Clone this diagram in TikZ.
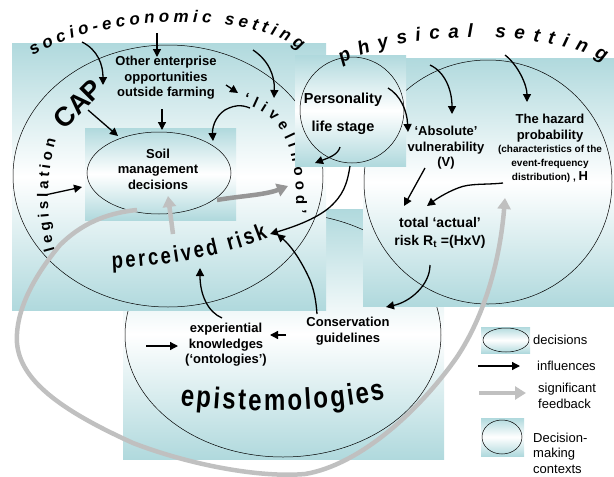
\documentclass[tikz,border=0pt]{standalone}
\usepackage{fontspec}
\setmainfont{Liberation Sans}
\newfontfamily\narrowfont[FakeStretch=0.8]{Liberation Sans}
\usetikzlibrary{arrows.meta,positioning,shapes.geometric,decorations.text}
\definecolor{ctxteal}{RGB}{176,217,221}
\definecolor{fbgray}{RGB}{192,192,192}
\definecolor{fbdark}{RGB}{150,150,150}
\tikzset{
  ctxbox/.style={top color=ctxteal, bottom color=ctxteal, middle color=white},
  ring/.style={ellipse, draw, line width=0.5pt, inner sep=0pt, outer sep=0pt},
  infl/.style={-{Triangle[length=8pt,width=8pt]}, line width=1.3pt},
  feedback/.style={-{Triangle[length=11pt,width=13pt]}, line width=4.5pt, draw=fbgray},
  lbl/.style={font=\bfseries\fontsize{13}{15.5}\selectfont, align=center, inner sep=0pt},
  leg/.style={font=\fontsize{13}{15.5}\selectfont, align=left, inner sep=0pt, anchor=west},
  arcword/.style={decorate, decoration={text along path, text align={fit to path}, text={#1}}}
}
\begin{document}
\begin{tikzpicture}[x=1pt, y=-1pt]
  \useasboundingbox (0,0) rectangle (614,477);
  \fill[ctxbox] (123,209) rectangle (444,459);
  \node[ring, minimum width=316pt, minimum height=244pt] (epis) at (283,335) {};
  \fill[ctxbox] (12,43) rectangle (326,310);
  \node[ring, minimum width=310pt, minimum height=262pt] (socio) at (168,176) {};
  \fill[ctxbox] (85,128) rectangle (236,220);
  \node[ring, minimum width=144pt, minimum height=82pt] (soil) at (159,173) {};
  \path[arcword={|\bfseries\fontsize{15}{15}\selectfont|‘livelihood’}]
    (243,103) .. controls (278,114) and (298,140) .. (296,214);
  \fill[ctxbox] (363,58) rectangle (614,306);
  \node[ring, minimum width=248pt, minimum height=244pt] (phys) at (488,182) {};
  \fill[ctxbox] (295,55) rectangle (406,166);
  \node[ring, minimum width=104pt, minimum height=106pt] (pers) at (352,110) {};
  \fill[ctxbox] (481,327) rectangle (530,353);
  \node[ring, minimum width=46pt, minimum height=24pt] (legdec) at (506,340) {};
  \fill[ctxbox] (481,418) rectangle (524,456);
  \node[ring, minimum width=40pt, minimum height=34pt] (legctx) at (502,437) {};

  \path[arcword={|\bfseries\itshape\fontsize{17}{17}\selectfont|socio-economic setting}]
    (33,56) .. controls (100,14) and (250,10) .. (300,50);
  \path[arcword={|\bfseries\itshape\fontsize{19}{19}\selectfont|physical setting}]
    (342,64) .. controls (400,30) and (545,28) .. (604,62);
  \path[arcword={|\bfseries\fontsize{15}{15}\selectfont|legislation}]
    (55,250) .. controls (45,215) and (46,175) .. (56,140);
  \node[font=\bfseries\fontsize{27}{27}\selectfont, rotate=45, inner sep=0pt] (cap) at (78,104) {CAP};
  \path[arcword={|\narrowfont\bfseries\fontsize{23}{23}\selectfont|perceived risk}]
    (112,268) .. controls (170,266) and (225,255) .. (268,238);
  \path[arcword={|\narrowfont\bfseries\fontsize{30}{30}\selectfont|epistemologies}]
    (180,405) .. controls (250,413) and (320,413) .. (386,399);

  \node[lbl] (other) at (166,78) {Other enterprise\\opportunities\\outside farming};
  \node[lbl] (soiltxt) at (158,169) {Soil\\management\\decisions};
  \node[lbl, font=\bfseries\fontsize{14.5}{28}\selectfont] (perstxt) at (343,114) {Personality\\life stage};
  \node[lbl] (vuln) at (446,148) {‘Absolute’\\vulnerability\\(V)};
  \node[lbl] (hazard) at (550,128) {The hazard\\probability};
  \node[lbl, font=\bfseries\fontsize{10}{14}\selectfont, below=3pt of hazard] (hazdef)
    {(characteristics of the\\event-frequency\\distribution) , {\fontsize{13}{14}\selectfont H}};
  \node[lbl, font=\bfseries\fontsize{14}{18}\selectfont] (risk) at (440,233) {total ‘actual’\\risk R\textsubscript{t} =(HxV)};
  \node[lbl] (cons) at (348,331) {Conservation\\guidelines};
  \node[lbl] (exper) at (226,345) {experiential\\knowledges\\(‘ontologies’)};

  \node[leg] (legdectxt) at (533,340) {decisions};
  \node[leg] (leginfl) at (537,366) {influences};
  \node[leg] (legfb) at (538,396) {significant\\feedback};
  \node[leg] (legctxtxt) at (533,453) {Decision-\\making\\contexts};

  \coordinate (so) at (82,42);
  \coordinate (setmid) at (157,33);
  \coordinate (setright) at (253,50);
  \coordinate (physl) at (430,65);
  \coordinate (physr) at (505,55);
  \coordinate (legis) at (45,195);
  \coordinate (live) at (250,108);
  \coordinate (hz) at (503,183);

  \draw[infl] (so) .. controls (98,50) and (103,65) .. (103,85);
  \draw[infl] (setmid) -- (157,57);
  \draw[infl] (226,85) -- (238,93);
  \draw[infl] (setright) .. controls (268,60) and (275,75) .. (274,98);
  \draw[infl] (88,110) -- (118,136);
  \draw[infl] (162,109) -- (162,130);
  \draw[infl] (live) .. controls (240,104) and (234,106) .. (229,108)
    .. controls (218,112) and (212,125) .. (213,141);
  \draw[infl] (legis) -- (82,187);
  \draw[infl] (340,147) .. controls (338,155) and (328,158) .. (315,163);
  \draw[infl] (388,88) .. controls (400,95) and (407,110) .. (408,132);
  \draw[infl] (physl) .. controls (445,72) and (452,90) .. (452,114);
  \draw[infl] (physr) .. controls (518,65) and (527,85) .. (527,102);
  \draw[infl] (425,168) -- (404,206);
  \draw[infl] (hz) .. controls (485,185) and (470,183) .. (458,188)
    .. controls (445,193) and (435,200) .. (427,206);
  \draw[infl] (350,166) .. controls (347,185) and (343,195) .. (330,207)
    .. controls (315,220) and (290,228) .. (270,234);
  \draw[infl] (317,314) .. controls (316,300) and (314,290) .. (310,280)
    .. controls (300,258) and (290,245) .. (277,234);
  \draw[infl] (430,265) .. controls (430,285) and (410,302) .. (386,307);
  \draw[infl] (222,318) .. controls (208,312) and (200,295) .. (200,268);
  \draw[infl] (286,335) -- (270,335);
  \draw[infl] (146,346) -- (178,346);
  \draw[infl] (478,366) -- (520,366);

  \draw[feedback, draw=fbdark] (217,200) .. controls (240,196) and (265,195) .. (288,186);
  \draw[feedback] (137,210) .. controls (105,213) and (80,225) .. (60,245)
    .. controls (35,275) and (15,310) .. (17,343)
    .. controls (20,380) and (60,410) .. (133,443)
    .. controls (190,465) and (260,478) .. (305,474)
    .. controls (360,465) and (420,410) .. (457,357)
    .. controls (485,315) and (500,260) .. (505,198);
  \draw[feedback] (173,234) -- (168,196);
  \draw[feedback] (479,393) -- (526,393);
\end{tikzpicture}
\end{document}
